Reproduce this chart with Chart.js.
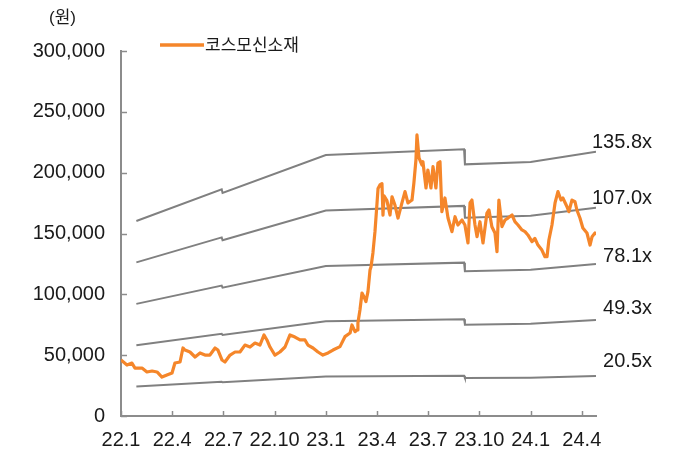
<!DOCTYPE html>
<html>
<head>
<meta charset="utf-8">
<script src="https://cdn.jsdelivr.net/npm/chart.js@4/dist/chart.umd.min.js"></script>
<style>
  html, body { margin: 0; padding: 0; background: #fff; }
  #wrap { width: 680px; height: 464px; position: relative; }
</style>
</head>
<body>
<div id="wrap"><canvas id="chart"></canvas></div>
<script>
// 코스모신소재 PER 밴드 — 월 단위 x축 (0 = 22.1)

const FONT = "'Liberation Sans', 'Noto Sans CJK KR', sans-serif";
const KFONT = "'Noto Sans CJK KR', sans-serif";
const COLORS = {
  price: "#f5862a",
  band: "#808080",
  axis: "#8c8c8c",
  text: "#1a1a1a",
};

const tickLabels = ["22.1", "22.4", "22.7", "22.10", "23.1", "23.4", "23.7", "23.10", "24.1", "24.4"];
const X_MAX = 27.83;

// 주가 (원)
const priceMonth = [
  0.00, 0.35, 0.64, 0.82, 1.23, 1.52, 1.82, 2.11, 2.40, 2.69, 2.99, 3.16, 3.46, 3.63, 3.75,
  4.04, 4.34, 4.63, 4.92, 5.21, 5.51, 5.68, 5.92, 6.09, 6.39, 6.68, 6.97, 7.26, 7.56, 7.85,
  8.14, 8.38, 8.55, 8.73, 9.02, 9.31, 9.61, 9.90, 10.19, 10.49, 10.78, 10.95, 11.25, 11.54, 11.83,
  12.13, 12.42, 12.83, 13.12, 13.42, 13.53, 13.71, 13.83, 13.88, 14.00, 14.12, 14.24, 14.35, 14.47, 14.59,
  14.65, 14.76, 14.88, 15.00, 15.06, 15.17, 15.29, 15.35, 15.41, 15.58, 15.76, 15.88, 16.05, 16.23, 16.46,
  16.64, 16.81, 17.05, 17.16, 17.28, 17.34, 17.46, 17.63, 17.69, 17.87, 17.98, 18.16, 18.28, 18.45, 18.57,
  18.69, 18.80, 18.98, 19.16, 19.39, 19.57, 19.74, 19.98, 20.15, 20.33, 20.45, 20.56, 20.74, 20.86, 21.03,
  21.21, 21.44, 21.56, 21.73, 21.91, 22.03, 22.14, 22.32, 22.50, 22.67, 22.91, 23.08, 23.26, 23.49, 23.67,
  23.84, 24.08, 24.25, 24.43, 24.66, 24.84, 24.96, 25.07, 25.25, 25.43, 25.60, 25.78, 25.89, 26.13, 26.24,
  26.42, 26.60, 26.71, 26.89, 27.06, 27.30, 27.48, 27.60, 27.77, 27.83,
];
const priceValue = [
  46000, 41900, 43500, 39400, 39400, 36200, 37000, 36200, 32000, 33700, 35300, 43600, 44400, 55900, 54200,
  52600, 48500, 51800, 50100, 50100, 55900, 54200, 46000, 44400, 50100, 52600, 52600, 58300, 56700, 60000,
  58300, 66600, 62500, 56700, 50100, 52600, 56700, 66600, 64900, 62500, 62500, 58300, 55900, 52600, 50100,
  51800, 54200, 57000, 65200, 68200, 74800, 69300, 70700, 76400, 87100, 101100, 97800, 94000, 102200, 120000,
  122700, 134000, 151500, 175000, 187000, 189900, 191000, 165000, 181000, 177000, 165200, 180200, 173400, 162700, 175100,
  184400, 175100, 177500, 191500, 210400, 231000, 212100, 206300, 209000, 187400, 202200, 187400, 204900, 187400, 207900,
  209000, 167900, 179200, 162700, 151500, 163800, 157000, 161100, 157000, 142200, 175100, 177500, 157000, 147400, 159700,
  142200, 166800, 169300, 155600, 150400, 135000, 177500, 155600, 161100, 162700, 165200, 159700, 157000, 152900, 151500,
  148800, 143300, 146000, 140500, 136400, 130900, 130900, 144700, 157000, 175100, 184400, 177500, 179200, 172000, 167900,
  177500, 176100, 169300, 162700, 154500, 150400, 140500, 147400, 150400, 148800,
];

// 12개월 선행 EPS (원) 와 PER 배수
const epsMonth = [0.9, 5.9, 5.95, 12.0, 20.1, 20.15, 24.0, 27.83];
const epsValue = [1180, 1372, 1350, 1579, 1614, 1523, 1538, 1600];
const perMultiples = [135.8, 107.0, 78.1, 49.3, 20.5];
// 라벨을 선 끝보다 얼마나 위에 둘지 (px)
const labelLift = [9, 9, 7, 12, 15];

function fmtNum(v) {
  return v.toLocaleString("en-US");
}

const priceData = priceMonth.map((m, i) => ({ x: m, y: priceValue[i] }));
const bandSets = perMultiples.map((per, k) => ({
  label: per.toFixed(1) + "x",
  data: epsMonth.map((m, i) => ({ x: m, y: epsValue[i] * per })),
  borderColor: COLORS.band,
  borderWidth: 2,
  pointRadius: 0,
  tension: 0,
  isBand: true,
  lift: labelLift[k],
}));

// 안쪽 방향 눈금
const tickMarks = {
  id: "tickMarks",
  afterDraw(chart) {
    const { ctx, chartArea, scales } = chart;
    ctx.save();
    ctx.strokeStyle = COLORS.axis;
    ctx.lineWidth = 1.5;
    scales.x.ticks.forEach((t) => {
      const x = Math.round(scales.x.getPixelForValue(t.value)) + 0.5;
      ctx.beginPath();
      ctx.moveTo(x, chartArea.bottom);
      ctx.lineTo(x, chartArea.bottom - 5);
      ctx.stroke();
    });
    scales.y.ticks.forEach((t) => {
      const y = Math.round(scales.y.getPixelForValue(t.value)) + 0.5;
      ctx.beginPath();
      ctx.moveTo(chartArea.left, y);
      ctx.lineTo(chartArea.left + 6, y);
      ctx.stroke();
    });
    ctx.restore();
  },
};

// 밴드 배수 라벨, 범례, 단위
const annotations = {
  id: "annotations",
  afterDraw(chart) {
    const { ctx, chartArea } = chart;
    ctx.save();
    ctx.fillStyle = COLORS.text;
    ctx.font = "20px " + FONT;
    ctx.textAlign = "right";
    ctx.textBaseline = "middle";
    chart.data.datasets.forEach((ds, i) => {
      if (!ds.isBand) return;
      const pts = chart.getDatasetMeta(i).data;
      const last = pts[pts.length - 1];
      ctx.fillText(ds.label, chartArea.right + 56, last.y - ds.lift);
    });

    // 범례
    const price = chart.data.datasets[0];
    ctx.strokeStyle = price.borderColor;
    ctx.lineWidth = 3.5;
    ctx.beginPath();
    ctx.moveTo(160, 45);
    ctx.lineTo(204, 45);
    ctx.stroke();
    ctx.textAlign = "left";
    ctx.font = "17px " + KFONT;
    ctx.fillText(price.label, 205, 45);

    ctx.font = "17px " + FONT;
    ctx.fillText("(원)", 49, 18);
    ctx.restore();
  },
};

new Chart(document.getElementById("chart"), {
  type: "line",
  data: {
    datasets: [
      {
        label: "코스모신소재",
        data: priceData,
        borderColor: COLORS.price,
        borderWidth: 3.2,
        pointRadius: 0,
        tension: 0,
        borderJoinStyle: "round",
      },
      ...bandSets,
    ],
  },
  options: {
    responsive: true,
    maintainAspectRatio: false,
    animation: false,
    devicePixelRatio: 1,
    layout: { padding: { top: 51, right: 84, left: 0, bottom: 0 } },
    plugins: { legend: { display: false }, tooltip: { enabled: false } },
    scales: {
      x: {
        type: "linear",
        min: 0,
        max: X_MAX,
        afterFit: (s) => { s.height = 48; },
        ticks: {
          stepSize: 3,
          includeBounds: false,
          autoSkip: false,
          maxRotation: 0,
          padding: 12,
          color: COLORS.text,
          font: { size: 20, family: FONT },
          callback: (v) => tickLabels[Math.round(v / 3)] ?? "",
        },
        grid: { display: true, drawOnChartArea: false, drawTicks: false },
        border: { color: COLORS.axis, width: 2 },
      },
      y: {
        min: 0,
        max: 300000,
        afterFit: (s) => { s.width = 121; },
        ticks: {
          stepSize: 50000,
          padding: 16,
          color: COLORS.text,
          font: { size: 20, family: FONT },
          callback: (v) => fmtNum(v),
        },
        grid: { display: true, drawOnChartArea: false, drawTicks: false },
        border: { color: COLORS.axis, width: 2 },
      },
    },
  },
  plugins: [tickMarks, annotations],
});
</script>
</body>
</html>
